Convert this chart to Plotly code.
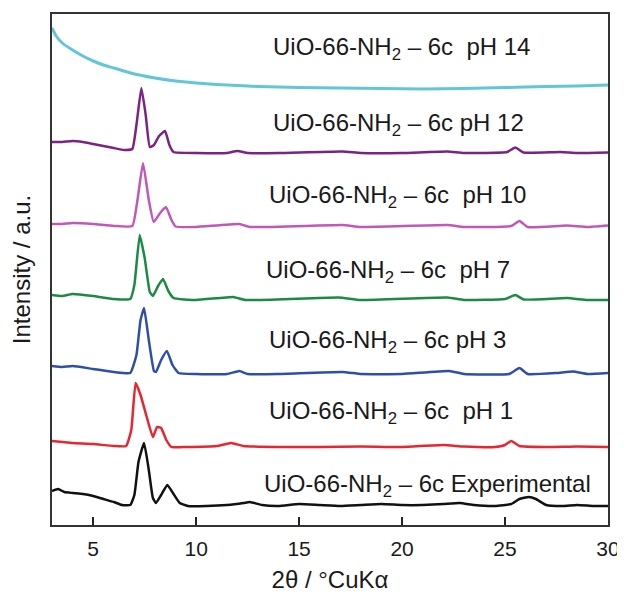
import plotly.graph_objects as go

# ---- data (2θ in degrees, intensity in arbitrary units above each pattern's own baseline) ----
labels = [
    "UiO-66-NH<sub>2</sub> – 6c Experimental",
    "UiO-66-NH<sub>2</sub> – 6c\u00a0 pH 1",
    "UiO-66-NH<sub>2</sub> – 6c pH 3",
    "UiO-66-NH<sub>2</sub> – 6c\u00a0 pH 7",
    "UiO-66-NH<sub>2</sub> – 6c\u00a0 pH 10",
    "UiO-66-NH<sub>2</sub> – 6c pH 12",
    "UiO-66-NH<sub>2</sub> – 6c\u00a0 pH 14",
]

x_exp = [3.0, 3.3, 3.6, 4.0, 4.5, 5.0, 5.5, 6.0, 6.4, 6.8, 7.0, 7.2, 7.47, 7.7, 7.9, 8.05, 8.3, 8.6, 8.9, 9.2,
         9.6, 10.5, 11.5, 12.3, 12.6, 13.2, 14.0, 15.0, 16.0, 17.0, 18.0, 19.0, 20.0, 21.0, 22.0, 22.8,
         23.5, 24.5, 25.3, 25.7, 26.15, 26.5, 27.0, 27.8, 28.5, 29.3, 30.0]
y_exp = [16, 18, 15, 14, 13, 11, 8, 5, 2, 2, 12, 45, 64, 37, 9, 4, 12, 22, 13, 4,
         1, 1, 2, 4, 5, 2, 1, 3, 2, 1, 2, 3, 2, 2, 3, 4,
         2, 1, 3, 8, 10, 8, 2, 1, 2, 1, 1]

x_ph1 = [3.0, 3.5, 4.0, 5.0, 6.0, 6.6, 6.85, 7.06, 7.3, 7.6, 7.9, 8.1, 8.3, 8.55, 8.8, 9.5, 11.0, 11.7,
         12.3, 14.0, 16.0, 18.0, 20.0, 22.0, 23.0, 24.5, 25.0, 25.3, 25.7, 27.0, 28.5, 30.0]
y_ph1 = [6, 5, 4, 3, 1, 1, 17, 64, 52, 30, 10, 20, 19, 7, 0, 0, 1, 4,
         1, 0, 0, 0.5, 0, 2, 0.5, 0, 2, 6, 1, 0, 0.5, 0]

x_ph3 = [3.0, 3.5, 4.0, 5.0, 6.0, 6.8, 7.1, 7.3, 7.47, 7.7, 7.95, 8.05, 8.3, 8.58, 8.85, 9.15, 10.0, 11.5,
         12.1, 12.5, 14.0, 17.1, 18.0, 20.0, 22.3, 23.0, 25.2, 25.7, 26.1, 27.5, 28.3, 29.0, 30.0]
y_ph3 = [8, 7, 8, 5, 2, 1, 19, 54, 66, 34, 3, 2, 14, 23, 9, 1, 0, 0,
         3, 0, 0, 2, 0, 0, 3, 0, 0, 6, 0, 1, 2.5, 0, 1]

x_ph7 = [3.0, 3.5, 4.0, 5.0, 6.0, 6.8, 7.0, 7.26, 7.5, 7.75, 7.9, 8.15, 8.39, 8.65, 8.9, 10.0, 11.8, 12.4,
         16.9, 18.0, 22.2, 23.0, 25.0, 25.5, 25.9, 28.0, 29.0, 30.0]
y_ph7 = [5, 4, 6, 4, 1, 1, 15, 65, 42, 8, 4, 14, 21, 9, 2, 0, 3, 0,
         2.5, 0, 2.5, 0, 1, 5, 0.5, 2, 0, 0]

x_ph10 = [3.0, 3.5, 4.0, 5.0, 6.0, 6.9, 7.15, 7.42, 7.7, 7.94, 8.25, 8.53, 8.8, 9.0, 10.0, 12.1, 12.6,
          17.1, 18.0, 22.2, 23.0, 25.3, 25.7, 26.1, 28.0, 29.0, 30.0]
y_ph10 = [3, 3, 4, 3, 1, 1, 27, 64, 27, 5, 14, 20, 7, 0.5, 0, 3, 0,
          2, 0, 2, 0, 1, 6, 0, 1.5, 0, 1.5]

x_ph12 = [3.0, 3.5, 4.0, 4.5, 5.0, 5.5, 6.0, 6.5, 6.9, 7.1, 7.34, 7.55, 7.75, 7.95, 8.2, 8.49, 8.7, 8.9,
          10.0, 11.5, 12.0, 12.5, 14.0, 17.1, 18.0, 20.0, 22.2, 23.0, 25.1, 25.5, 25.9, 27.7, 28.5, 30.0]
y_ph12 = [11, 11, 12, 11, 9, 7, 5, 3, 4, 28, 65, 38, 6, 8, 17, 22, 8, 1,
          0, 0, 2, 0, 0, 1.5, 0, 0, 1.5, 0, 1, 5.5, 0.5, 1, 0, 0.5]

x_ph14 = [3.0, 3.2, 3.5, 4.0, 4.5, 5.0, 5.5, 6.0, 7.0, 8.0, 9.0, 10.0, 11.0, 12.0, 13.0, 14.0, 15.0,
          17.0, 19.0, 21.0, 23.0, 25.0, 27.0, 28.5, 30.0]
y_ph14 = [60, 52, 45, 38, 32, 27, 23, 20, 14, 10, 7, 5, 3.5, 2.5, 1.5, 1, 0.5,
          0, -0.5, -1, -0.5, 0.5, 1.5, 2, 3]

# ---- presentation ----
offsets = [18, 78, 151, 225, 298, 372, 437]
colors = ["#111111", "#e8262d", "#2e4fa8", "#1b8a43", "#c158b8", "#7a2384", "#62c6d9"]
label_x = [13.19, 13.44, 13.44, 13.29, 13.44, 13.63, 13.63]
label_y = [40, 113, 184, 254, 329, 401, 477]

series = [(x_exp, y_exp), (x_ph1, y_ph1), (x_ph3, y_ph3), (x_ph7, y_ph7),
          (x_ph10, y_ph10), (x_ph12, y_ph12), (x_ph14, y_ph14)]

font_family = "Liberation Sans, Arial, sans-serif"
fig = go.Figure()
for i, (xs, ys) in enumerate(series):
    fig.add_trace(go.Scatter(
        x=xs, y=[v + offsets[i] for v in ys], mode="lines",
        line=dict(color=colors[i], width=3 if i == 6 else 2.5, shape="spline", smoothing=0.4),
        showlegend=False, hoverinfo="skip"))
    fig.add_annotation(x=label_x[i], y=label_y[i], xref="x", yref="y", text=labels[i],
                       showarrow=False, xanchor="left", yanchor="middle",
                       font=dict(family=font_family, size=24, color="#1a1a1a"))

# the page body adds an 8 px margin, so the figure is 8 px smaller and its margins 8 px less
fig.update_layout(
    width=617, height=589,
    margin=dict(l=44, r=17, t=6, b=72, autoexpand=False),
    paper_bgcolor="white", plot_bgcolor="white",
    font=dict(family=font_family, size=21, color="#1a1a1a"),
    xaxis=dict(range=[3, 30], tickvals=[5, 10, 15, 20, 25, 30], ticks="inside", ticklen=8,
               tickwidth=1.5, tickcolor="#222", showline=True, linewidth=2, linecolor="#333",
               mirror=True, showgrid=False, zeroline=False, automargin=False,
               ticklabelstandoff=4,
               tickfont=dict(size=21), title=dict(text="2θ / °CuKα", font=dict(size=24), standoff=12)),
    yaxis=dict(range=[0, 511], showticklabels=False, ticks="", showline=True, linewidth=2,
               linecolor="#333", mirror=True, showgrid=False, zeroline=False, automargin=False,
               title=dict(text="Intensity / a.u.", font=dict(size=24), standoff=14)),
)

fig.write_html("out.html")
